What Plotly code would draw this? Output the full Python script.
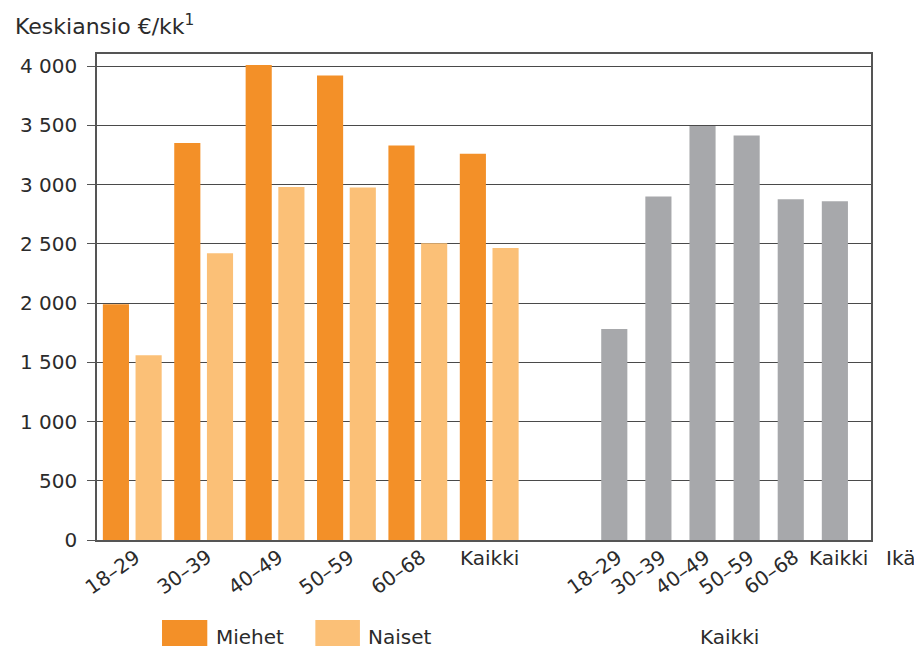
import plotly.graph_objects as go

# ---- data ----
age_groups = ["18–29", "30–39", "40–49", "50–59", "60–68", "Kaikki"]
miehet = [1990, 3350, 4010, 3920, 3330, 3260]
naiset = [1560, 2420, 2980, 2975, 2505, 2465]
kaikki = [1780, 2900, 3495, 3415, 2875, 2860]
y_tick_vals = [0, 500, 1000, 1500, 2000, 2500, 3000, 3500, 4000]
y_tick_text = ["0", "500", "1 000", "1 500", "2 000", "2 500", "3 000", "3 500", "4 000"]
y_title = "Keskiansio €/kk<sup>1</sup>"
x_title = "Ikä"
legend_names = ["Miehet", "Naiset"]
group2_name = "Kaikki"

# ---- style / layout parameters ----
ORANGE = "#F39028"
LIGHT = "#FBC077"
GREY = "#A7A8AB"
AXIS = "#555555"
GRID = "#4a4a4a"
TEXT = "#2b2b2b"
FONT = "DejaVu Sans"
FS = 20

pair_off = 0.229
bar_w = 0.366
g2_start = 6.752
g2_step = 0.618

n = len(age_groups)
x_m = [i - pair_off for i in range(n)]
x_n = [i + pair_off for i in range(n)]
x_pair = list(range(n))
x_k = [g2_start + i * g2_step for i in range(n)]

fig = go.Figure()
fig.add_trace(go.Bar(x=x_m, y=miehet, width=bar_w, marker=dict(color=ORANGE, line=dict(width=0)),
                     name=legend_names[0], showlegend=False))
fig.add_trace(go.Bar(x=x_n, y=naiset, width=bar_w, marker=dict(color=LIGHT, line=dict(width=0)),
                     name=legend_names[1], showlegend=False))
fig.add_trace(go.Bar(x=x_k, y=kaikki, width=bar_w, marker=dict(color=GREY, line=dict(width=0)),
                     name=group2_name, showlegend=False))

tf = dict(family=FONT, size=FS, color=TEXT)
annotations = []
# x category labels
for xs, gshift in ((x_pair, 0), (x_k, 4)):
    for x, lab in zip(xs, age_groups):
        if lab == "Kaikki":
            annotations.append(dict(x=x, y=0, xref="x", yref="paper", text=lab, showarrow=False,
                                    xanchor="center", yanchor="top", xshift=gshift, yshift=-4, font=tf))
        else:
            annotations.append(dict(x=x, y=0, xref="x", yref="paper", text=lab, showarrow=False,
                                    xanchor="right", yanchor="top", xshift=15, yshift=-2,
                                    textangle=-35, font=tf))
# axis names
annotations.append(dict(x=1.0165, y=0, xref="paper", yref="paper", text=x_title, showarrow=False,
                        xanchor="left", yanchor="top", yshift=-4, font=tf))
annotations.append(dict(x=-0.1081, y=1.027, xref="paper", yref="paper", text=y_title, showarrow=False,
                        xanchor="left", yanchor="bottom", font=dict(family=FONT, size=22, color=TEXT)))
# legend texts
annotations.append(dict(x=0.151, y=-0.2, xref="paper", yref="paper", text=legend_names[0], showarrow=False,
                        xanchor="left", yanchor="middle", font=tf))
annotations.append(dict(x=0.348, y=-0.2, xref="paper", yref="paper", text=legend_names[1], showarrow=False,
                        xanchor="left", yanchor="middle", font=tf))
annotations.append(dict(x=sum(x_k) / n, y=-0.2, xref="x", yref="paper", text=group2_name, showarrow=False,
                        xanchor="center", yanchor="middle", xshift=5, font=tf))

shapes = [
    dict(type="rect", xref="paper", yref="paper", x0=0.084, x1=0.1425, y0=-0.25, y1=-0.1646,
         fillcolor=ORANGE, line=dict(width=0)),
    dict(type="rect", xref="paper", yref="paper", x0=0.2821, x1=0.3397, y0=-0.25, y1=-0.1646,
         fillcolor=LIGHT, line=dict(width=0)),
]

# page body has an 8px margin, so the figure is 8px smaller and margins compensate
fig.update_layout(
    width=914, height=638,
    margin=dict(l=77, r=51, t=46, b=106),
    paper_bgcolor="white", plot_bgcolor="white",
    barmode="overlay",
    font=tf,
    annotations=annotations,
    shapes=shapes,
    xaxis=dict(range=[-0.494, 10.348], showticklabels=False, ticks="", showgrid=False,
               zeroline=False, showline=True, linecolor=AXIS, linewidth=1.5, mirror=True,
               fixedrange=True),
    yaxis=dict(range=[0, 4102], tickvals=y_tick_vals, ticktext=y_tick_text,
               ticks="outside", ticklen=8, tickcolor=AXIS, tickwidth=1.3,
               ticklabelstandoff=6,
               showgrid=True, gridcolor=GRID, gridwidth=1.2,
               zeroline=False, showline=True, linecolor=AXIS, linewidth=1.5, mirror=True,
               tickfont=tf, fixedrange=True),
)

fig.write_html("out.html")
